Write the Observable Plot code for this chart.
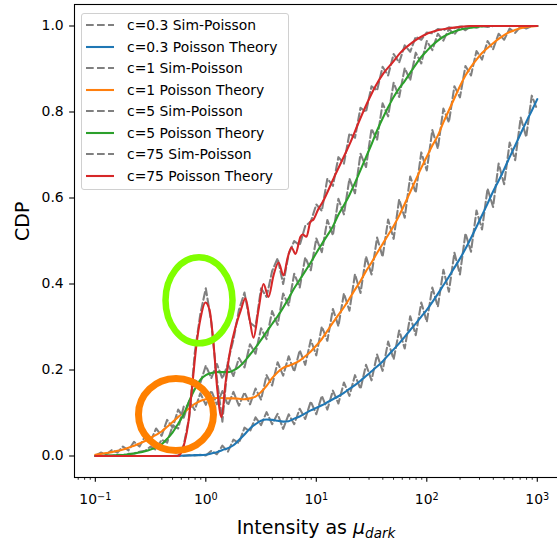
<!DOCTYPE html>
<html>
<head>
<meta charset="utf-8">
<script src="https://cdn.jsdelivr.net/npm/d3@7"></script>
<script src="https://cdn.jsdelivr.net/npm/@observablehq/plot@0.6"></script>
<style>
html, body { margin: 0; padding: 0; background: #fff; }
#wrap { position: relative; width: 557px; height: 540px; overflow: hidden; font-family: "DejaVu Sans", sans-serif; color: #000; }
#wrap svg { max-width: none !important; display: block; }
.legend { position: absolute; left: 81px; top: 13px; width: 208px; height: 177px; box-sizing: border-box;
  border: 1px solid #d0d0d0; border-radius: 3px; background: rgba(255,255,255,0.8); }
.item { position: absolute; left: 0; height: 20px; width: 206px; }
.item svg { position: absolute; left: 3px; top: 8px; }
.item span { position: absolute; left: 45px; top: 0; line-height: 20px; font-size: 13.9px; white-space: nowrap; }
.xlabel { position: absolute; left: 74px; width: 484px; top: 518px; text-align: center; font-size: 19px; line-height: 19px; white-space: nowrap; }
.xlabel sub { font-size: 13.5px; vertical-align: baseline; position: relative; top: 4px; }
</style>
</head>
<body>
<div id="wrap">
  <div id="chart"></div>
  <div class="legend" id="legend"></div>
  <div class="xlabel">Intensity as <i>μ</i><sub><i>dark</i></sub></div>
</div>
<script>
// ---------- data ----------
const muGrid = [
  0.1, 0.1122, 0.1259, 0.1413, 0.1585, 0.1778, 0.1995, 0.2239, 0.2512, 0.2818,
  0.3162, 0.3548, 0.3981, 0.4467, 0.5012, 0.5623, 0.631, 0.7079, 0.7943, 0.8913,
  1, 1.122, 1.259, 1.413, 1.585, 1.778, 1.995, 2.239, 2.512, 2.818,
  3.162, 3.548, 3.981, 4.467, 5.012, 5.623, 6.31, 7.079, 7.943, 8.913,
  10, 11.22, 12.59, 14.13, 15.85, 17.78, 19.95, 22.39, 25.12, 28.18,
  31.62, 35.48, 39.81, 44.67, 50.12, 56.23, 63.1, 70.79, 79.43, 89.13,
  100, 112.2, 125.9, 141.3, 158.5, 177.8, 199.5, 223.9, 251.2, 281.8,
  316.2, 354.8, 398.1, 446.7, 501.2, 562.3, 631, 707.9, 794.3, 891.3,
  1000
];

// c = 0.3
const theory03 = [
  0,0,0,0,0,0,0,0,0,0,
  0,0,0,0,0,0,0.001,0.001,0.002,0.002,
  0.003,0.006,0.009,0.014,0.018,0.025,0.037,0.05,0.064,0.074,
  0.082,0.085,0.084,0.082,0.08,0.081,0.087,0.092,0.099,0.106,
  0.112,0.118,0.125,0.132,0.139,0.147,0.156,0.165,0.175,0.186,
  0.197,0.208,0.22,0.234,0.248,0.262,0.277,0.293,0.308,0.324,
  0.34,0.358,0.377,0.397,0.417,0.438,0.459,0.482,0.507,0.533,
  0.56,0.587,0.615,0.64,0.667,0.695,0.722,0.75,0.777,0.803,
  0.83
];
const sim03 = [
  0,0,0,0,0,0,0,0,0,0,
  0,0,0,0,0,0.001,0,0.002,0.001,0.003,
  0.001,0.012,0.004,0.024,0.01,0.038,0.03,0.066,0.057,0.09,
  0.072,0.102,0.074,0.098,0.063,0.097,0.074,0.11,0.086,0.127,
  0.097,0.14,0.108,0.152,0.122,0.171,0.14,0.188,0.156,0.212,
  0.176,0.236,0.198,0.266,0.225,0.292,0.25,0.325,0.281,0.357,
  0.312,0.392,0.347,0.433,0.382,0.473,0.422,0.518,0.475,0.571,
  0.527,0.622,0.579,0.68,0.632,0.729,0.688,0.787,0.742,0.838,
  0.805
];

// c = 1
const theory1 = [
  0.003,0.005,0.007,0.009,0.012,0.015,0.019,0.024,0.029,0.035,
  0.042,0.049,0.057,0.068,0.079,0.091,0.101,0.111,0.121,0.128,
  0.132,0.134,0.135,0.135,0.134,0.134,0.133,0.132,0.134,0.138,
  0.149,0.163,0.181,0.195,0.205,0.21,0.215,0.222,0.232,0.243,
  0.257,0.272,0.291,0.31,0.328,0.346,0.366,0.387,0.407,0.43,
  0.45,0.472,0.493,0.514,0.535,0.559,0.586,0.614,0.642,0.67,
  0.696,0.722,0.745,0.776,0.804,0.832,0.86,0.885,0.905,0.922,
  0.937,0.949,0.96,0.97,0.979,0.986,0.991,0.995,0.998,0.999,
  1.0
];
const sim1 = [
  0.001,0.008,0.004,0.014,0.008,0.022,0.013,0.033,0.022,0.046,
  0.034,0.064,0.047,0.084,0.066,0.108,0.089,0.128,0.107,0.146,
  0.119,0.152,0.12,0.151,0.118,0.149,0.117,0.148,0.12,0.157,
  0.131,0.188,0.164,0.218,0.187,0.232,0.196,0.246,0.212,0.27,
  0.234,0.301,0.268,0.342,0.302,0.378,0.338,0.423,0.379,0.464,
  0.422,0.508,0.463,0.55,0.505,0.597,0.554,0.65,0.612,0.706,
  0.664,0.758,0.715,0.808,0.776,0.86,0.834,0.907,0.885,0.942,
  0.922,0.965,0.946,0.982,0.968,0.994,0.984,0.999,0.994,1.0,
  1.0
];

// c = 5
const theory5 = [
  0,0,0.001,0.001,0.002,0.002,0.004,0.006,0.008,0.011,
  0.015,0.02,0.027,0.04,0.055,0.075,0.097,0.128,0.155,0.177,
  0.188,0.193,0.195,0.195,0.195,0.199,0.207,0.22,0.236,0.252,
  0.27,0.289,0.307,0.325,0.345,0.367,0.39,0.41,0.43,0.45,
  0.472,0.493,0.513,0.534,0.561,0.583,0.607,0.635,0.665,0.695,
  0.725,0.757,0.785,0.811,0.835,0.855,0.872,0.891,0.91,0.928,
  0.942,0.955,0.966,0.975,0.982,0.987,0.991,0.994,0.996,0.998,
  0.999,1,1,1,1,1,1,1,1,1,
  1
];
const sim5 = [
  0,0,0.001,0.001,0.003,0.002,0.005,0.006,0.01,0.012,
  0.022,0.014,0.038,0.031,0.071,0.064,0.115,0.118,0.176,0.17,
  0.21,0.181,0.214,0.18,0.213,0.186,0.228,0.206,0.26,0.238,
  0.297,0.272,0.337,0.305,0.378,0.35,0.424,0.392,0.462,0.432,
  0.506,0.474,0.549,0.513,0.598,0.562,0.645,0.611,0.703,0.672,
  0.761,0.735,0.82,0.79,0.868,0.835,0.902,0.874,0.938,0.913,
  0.965,0.944,0.982,0.966,0.993,0.98,0.998,0.99,1,0.996,
  1,0.998,1,1,1,1,1,1,1,1,
  1
];

// c = 75
const sim75 = [
  0,0,0,0,0,0,0,0,0,0,
  0,0,0,0,0,0,0.025,0.09,0.24,0.33,
  0.39,0.31,0.18,0.08,0.22,0.27,0.34,0.38,0.31,0.3,
  0.39,0.37,0.43,0.46,0.4,0.47,0.5,0.49,0.535,0.545,
  0.585,0.57,0.645,0.628,0.695,0.68,0.75,0.74,0.81,0.8,
  0.86,0.85,0.905,0.885,0.935,0.915,0.955,0.94,0.975,0.968,
  0.985,0.983,0.993,0.99,0.997,0.995,0.999,0.998,1,1,
  1,1,1,1,1,1,1,1,1,1,
  1
];
const muRed = [
  0.1, 0.316, 0.555, 0.590, 0.641, 0.697, 0.758, 0.824, 0.896, 0.993,
  1.080, 1.175, 1.276, 1.387, 1.508, 1.674, 1.857, 2.061, 2.287, 2.485,
  2.702, 2.999, 3.33, 3.69, 4.10, 4.55, 5.05, 5.49, 5.96, 6.48,
  7.19, 7.50, 8.15, 8.86, 9.43, 10.47, 11.38, 14.3, 17.3, 20.4,
  24.1, 29.0, 34.3, 40.5, 48.9, 57.8, 74.2, 93.3, 125, 164,
  248, 1000
];
const theory75 = [
  0, 0, 0, 0.005, 0.03, 0.08, 0.17, 0.26, 0.32, 0.357,
  0.34, 0.26, 0.15, 0.09, 0.17, 0.25, 0.3, 0.337, 0.367, 0.32,
  0.275, 0.34, 0.40, 0.37, 0.42, 0.45, 0.42, 0.46, 0.485, 0.47,
  0.51, 0.515, 0.51, 0.545, 0.55, 0.575, 0.59, 0.645, 0.69, 0.73,
  0.775, 0.822, 0.86, 0.89, 0.915, 0.938, 0.962, 0.978, 0.99, 0.995,
  1.0, 1.0
];

const seriesNames = ["c=0.3", "c=1", "c=5", "c=75"];
const seriesColors = ["#1f77b4", "#ff7f0e", "#2ca02c", "#d62728"];

const yTicks = [0, 0.2, 0.4, 0.6, 0.8, 1.0];
const xMajorTicks = [0.1, 1, 10, 100, 1000];
const xMinorTicks = [0.07, 0.08, 0.09,
  0.2, 0.3, 0.4, 0.5, 0.6, 0.7, 0.8, 0.9,
  2, 3, 4, 5, 6, 7, 8, 9,
  20, 30, 40, 50, 60, 70, 80, 90,
  200, 300, 400, 500, 600, 700, 800, 900];

// hand-drawn annotation marks (centres in data units)
const annotMu = [0.537, 0.868];
const annotCdp = [0.0965, 0.362];

// ---------- build ----------
const rows = (xs, ys) => xs.map((x, i) => ({x, y: ys[i]}));
const sims = [sim03, sim1, sim5, sim75].map(s => rows(muGrid, s));
const theories = [rows(muGrid, theory03), rows(muGrid, theory1), rows(muGrid, theory5), rows(muRed, theory75)];

function ellipseSymbol(aspect) {
  return {
    draw(ctx, size) {
      const rx = Math.sqrt(size / Math.PI), ry = rx * aspect, k = 0.5523;
      ctx.moveTo(rx, 0);
      ctx.bezierCurveTo(rx, ry * k, rx * k, ry, 0, ry);
      ctx.bezierCurveTo(-rx * k, ry, -rx, ry * k, -rx, 0);
      ctx.bezierCurveTo(-rx, -ry * k, -rx * k, -ry, 0, -ry);
      ctx.bezierCurveTo(rx * k, -ry, rx, -ry * k, rx, 0);
      ctx.closePath();
    }
  };
}

const lineMarks = [];
for (let i = 0; i < 4; i++) {
  lineMarks.push(Plot.line(sims[i], {x: "x", y: "y", stroke: "#808080", strokeWidth: 2.08, strokeDasharray: "7.7,3.3"}));
  lineMarks.push(Plot.line(theories[i], {x: "x", y: "y", stroke: seriesColors[i], strokeWidth: 2.08, curve: "monotone-x"}));
}

const plot = Plot.plot({
  width: 560,
  height: 540,
  marginLeft: 74,
  marginRight: 2,
  marginTop: 4,
  marginBottom: 63,
  style: {fontFamily: "DejaVu Sans", fontSize: "13.9px", color: "#000", background: "#fff"},
  x: {type: "log", domain: [0.0648, 1556]},
  y: {domain: [-0.05, 1.05]},
  marks: [
    ...lineMarks,
    Plot.dot([0], {x: () => annotMu[0], y: () => annotCdp[0], r: 37.5, symbol: ellipseSymbol(0.96), stroke: "#ff8000", strokeWidth: 7, fill: "none"}),
    Plot.dot([1], {x: () => annotMu[1], y: () => annotCdp[1], r: 33.5, symbol: ellipseSymbol(1.284), stroke: "#80ff00", strokeWidth: 6.5, fill: "none"}),
    Plot.frame({stroke: "#000", strokeWidth: 1.1}),
    Plot.axisY({ticks: yTicks, tickSize: 4.86, tickPadding: 6, tickFormat: d => d.toFixed(1), fontSize: 13.9, label: null, strokeWidth: 1.1}),
    Plot.axisX({ticks: xMajorTicks, tickSize: 4.86, tickPadding: 12, tickFormat: d => "10^" + Math.round(Math.log10(d)), fontSize: 13.9, label: null, strokeWidth: 1.1}),
    Plot.axisX({ticks: xMinorTicks, tickSize: 2.78, tickFormat: () => "", label: null, strokeWidth: 0.83}),
    Plot.text(["CDP"], {frameAnchor: "left", rotate: -90, dx: -52, fontSize: 19, fill: "#000"})
  ]
});

// superscript exponents like matplotlib's 10^{n}
const NS = "http://www.w3.org/2000/svg";
plot.querySelectorAll("text").forEach(t => {
  const s = t.textContent;
  if (s.startsWith("10^")) {
    const e = s.slice(3).replace("-", "\u2212");
    t.textContent = "10";
    const ts = document.createElementNS(NS, "tspan");
    ts.setAttribute("dy", "-0.42em");
    ts.setAttribute("font-size", "9.7");
    ts.textContent = e;
    t.appendChild(ts);
  }
});
document.getElementById("chart").appendChild(plot);

// legend
const legend = document.getElementById("legend");
let row = 0;
for (let i = 0; i < 4; i++) {
  for (const kind of ["sim", "theory"]) {
    const item = document.createElement("div");
    item.className = "item";
    item.style.top = (1 + row * 21.5) + "px";
    const sw = document.createElementNS(NS, "svg");
    sw.setAttribute("width", "30"); sw.setAttribute("height", "4");
    const ln = document.createElementNS(NS, "line");
    ln.setAttribute("x1", "1"); ln.setAttribute("x2", "29");
    ln.setAttribute("y1", "2"); ln.setAttribute("y2", "2");
    ln.setAttribute("stroke-width", "2.08");
    if (kind === "sim") { ln.setAttribute("stroke", "#808080"); ln.setAttribute("stroke-dasharray", "7.7,3.3"); }
    else ln.setAttribute("stroke", seriesColors[i]);
    sw.appendChild(ln);
    const sp = document.createElement("span");
    sp.textContent = seriesNames[i] + (kind === "sim" ? " Sim-Poisson" : " Poisson Theory");
    item.appendChild(sw); item.appendChild(sp);
    legend.appendChild(item);
    row++;
  }
}
</script>
</body>
</html>
